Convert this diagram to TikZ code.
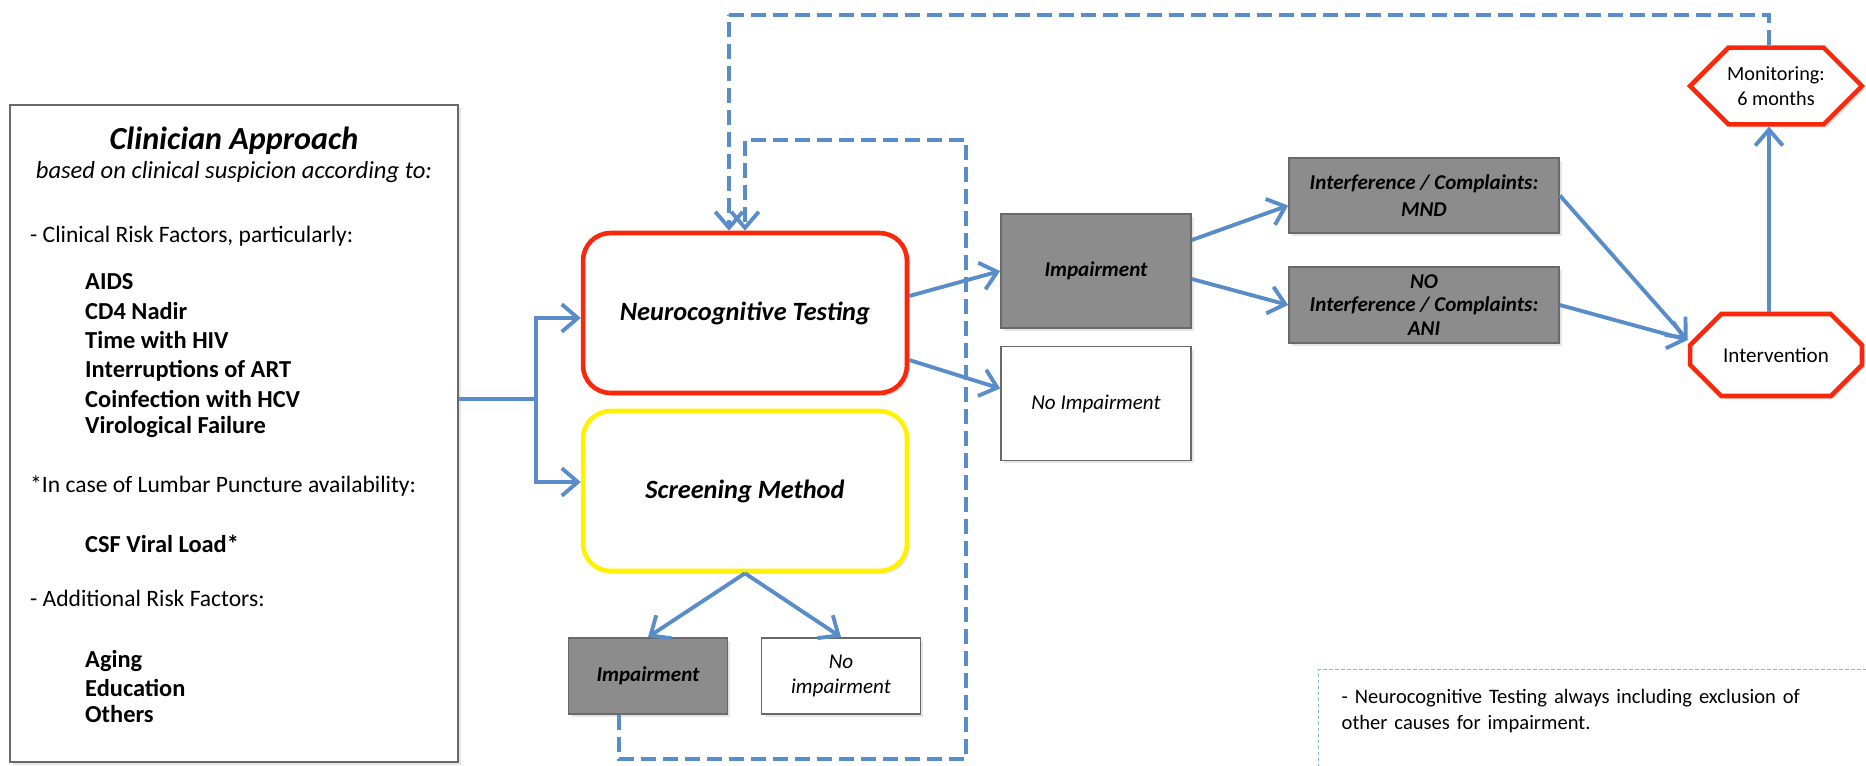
\documentclass[tikz,border=0pt]{standalone}
\usepackage{fontspec}
\setmainfont{Carlito}
\usetikzlibrary{positioning,shadows,arrows.meta,shapes.misc}
\definecolor{flowblue}{RGB}{88,141,201}
\definecolor{testred}{RGB}{250,40,10}
\definecolor{screenyellow}{RGB}{255,242,0}
\definecolor{boxgray}{RGB}{140,140,140}
\definecolor{edgegray}{RGB}{105,105,105}
\definecolor{noteblue}{RGB}{140,180,225}
\newcommand{\ptsize}[2]{\fontsize{#1pt}{#2pt}\selectfont}
\tikzset {
    soft shadow/.style={
        drop shadow={shadow xshift=0.06cm, shadow yshift=-0.06cm, opacity=0.2},
    },
    info box/.style={
        draw=edgegray,
        line width=0.9pt,
        fill=white,
        rectangle, % plain frame
        soft shadow,
    },
    test box/.style={
        draw=testred,
        line width=2.6pt,
        fill=white,
        rectangle, % rounded frame
        rounded corners=0.55cm,
        minimum width=6.48cm,
        minimum height=3.2cm,
        align=center,
        font=\ptsize{15}{18}\bfseries\itshape,
        soft shadow,
    },
    screen box/.style={
        test box,
        draw=screenyellow,
    },
    gray box/.style={
        draw=edgegray,
        line width=1pt,
        fill=boxgray,
        rectangle,
        align=center,
        font=\ptsize{12}{15}\bfseries\itshape,
        soft shadow,
    },
    white box/.style={
        gray box,
        fill=white,
        font=\ptsize{12}{14}\itshape,
    },
    octa box/.style={
        chamfered rectangle,
        chamfered rectangle xsep=0.46cm,
        chamfered rectangle ysep=0.36cm,
        draw=testred,
        line width=2.6pt,
        fill=white,
        minimum width=3.44cm,
        align=center,
        font=\ptsize{11.5}{14},
        soft shadow,
    },
    note box/.style={
        draw=noteblue,
        line width=0.8pt,
        dash pattern=on 0.07cm off 0.05cm,
        rectangle,
        align=left,
        font=\ptsize{11.7}{14.7},
    },
    flow line/.style={draw=flowblue, line width=2.2pt},
    flow arrow/.style={flow line, -{Straight Barb[length=0.32cm, width=0.55cm]}},
    loop arrow/.style={flow arrow, dash pattern=on 0.3cm off 0.14cm},
    body text/.style={anchor=base west, font=\ptsize{13.4}{16}},
    risk text/.style={anchor=base west, font=\ptsize{13.9}{16}\bfseries},
}

\begin{document}
\begin{tikzpicture}[x=0.02cm, y=-0.02cm]
\useasboundingbox (0,0) rectangle (1866,765);
\clip (0,0) rectangle (1866,765);

% clinician box
\node[info box, minimum width=8.96cm, minimum height=13.14cm] (clinician) at (234,433.5) {};
\node[anchor=base, font=\ptsize{18.3}{22}\bfseries\itshape] (approachTitle) at (234,149) {Clinician Approach};
\node[anchor=base, font=\ptsize{14}{17}\itshape] (basedOn) at (234,178) {based on clinical suspicion according to:};
\node[body text] (riskHead) at (24,242) {- Clinical Risk Factors, particularly:};
\node[risk text] (aids) at (79,289) {AIDS};
\node[risk text] (cdNadir) at (79,319) {CD4 Nadir};
\node[risk text] (timeHiv) at (79,348) {Time with HIV};
\node[risk text] (artStop) at (79,377) {Interruptions of ART};
\node[risk text] (hcv) at (79,407) {Coinfection with HCV};
\node[risk text] (viroFail) at (79,433) {Virological Failure};
\node[body text] (lumbarHead) at (24,492) {*In case of Lumbar Puncture availability:};
\node[risk text] (csfLoad) at (79,552) {CSF Viral Load*};
\node[body text] (extraHead) at (24,606) {- Additional Risk Factors:};
\node[risk text] (aging) at (79,667) {Aging};
\node[risk text] (education) at (79,696) {Education};
\node[risk text] (others) at (79,722) {Others};

% tests
\node[test box] (neuro) at (745,313) {Neurocognitive Testing};
\node[screen box] (screen) at (745,491) {Screening Method};
\node[gray box, minimum width=3.18cm, minimum height=1.52cm] (screenImp) at (648,676) {Impairment};
\node[white box, minimum width=3.18cm, minimum height=1.52cm] (screenNoImp) at (841,676) {No\\impairment};
\node[gray box, minimum width=3.8cm, minimum height=2.28cm] (testImp) at (1096,271) {Impairment};
\node[white box, minimum width=3.8cm, minimum height=2.28cm] (testNoImp) at (1096,403.5) {No Impairment};
\node[gray box, minimum width=5.4cm, minimum height=1.5cm] (mnd) at (1424,195.5) {Interference / Complaints:\\MND};
\node[gray box, minimum width=5.4cm, minimum height=1.52cm, font=\ptsize{12}{13.5}\bfseries\itshape] (ani) at (1424,305) {NO\\Interference / Complaints:\\ANI};
\node[octa box, inner ysep=0.02cm] (monitor) at (1776,86) {Monitoring:\\6 months};
\node[octa box, minimum height=1.64cm, font=\ptsize{12}{14}] (intervention) at (1776,355) {Intervention};
\node[note box, anchor=north west, text width=11cm, text depth=2cm, inner xsep=0.46cm, inner ysep=0.4cm] (note) at (1318,669) {- Neurocognitive Testing always including exclusion of\\other causes for impairment.};

\coordinate (split) at (536,399);
\coordinate (retestTop) at (729,15);
\coordinate (recheckLow) at (966,759);
\coordinate (recheckHigh) at (966,140);

\draw[flow line] (clinician.east |- split) -- (split);
\draw[flow arrow] (split) |- ([yshift=-0.1cm]neuro.west);
\draw[flow arrow] (split) |- ([yshift=0.18cm]screen.west);
\draw[flow arrow] (screen.south) -- (screenImp.north);
\draw[flow arrow] (screen.south) -- (screenNoImp.north);
\draw[flow arrow] ([yshift=0.34cm]neuro.east) -- (testImp.west);
\draw[flow arrow] ([yshift=-0.94cm]neuro.east) -- ([yshift=0.3cm]testNoImp.west);
\draw[flow arrow] ([yshift=0.62cm]testImp.east) -- ([yshift=-0.2cm]mnd.west);
\draw[flow arrow] ([yshift=-0.16cm]testImp.east) -- (ani.west);
\draw[flow arrow] (mnd.east) -- ([yshift=0.3cm]intervention.west);
\draw[flow arrow] (ani.east) -- ([yshift=0.3cm]intervention.west);
\draw[flow arrow] ([xshift=-0.14cm]intervention.north) -- ([xshift=-0.14cm]monitor.south);
\draw[loop arrow] ([xshift=-0.14cm]monitor.north) |- (retestTop) -| ([xshift=-0.32cm]neuro.north);
\draw[loop arrow] ([xshift=-0.58cm]screenImp.south) |- (recheckLow) -- (recheckHigh) -| (neuro.north);
\end{tikzpicture}
\end{document}
